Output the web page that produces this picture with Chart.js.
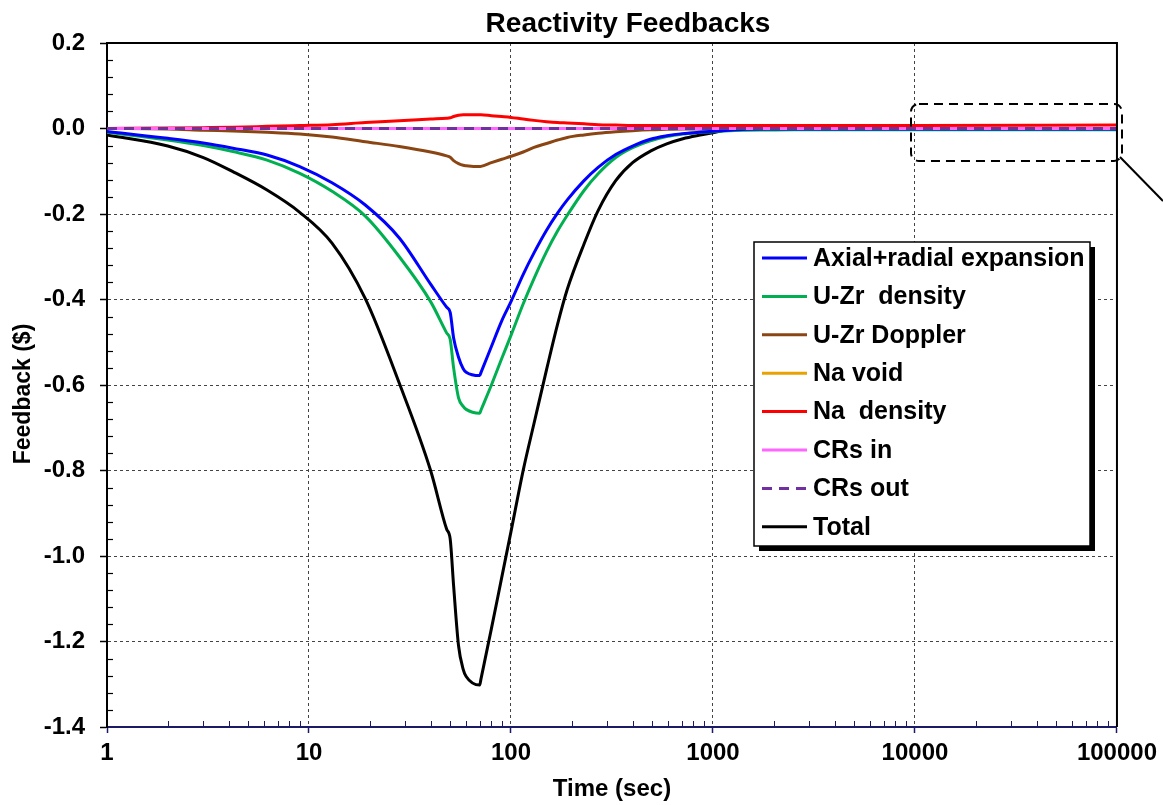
<!DOCTYPE html>
<html>
<head>
<meta charset="utf-8">
<title>Reactivity Feedbacks</title>
<script src="https://cdn.jsdelivr.net/npm/chart.js@4.4.1/dist/chart.umd.min.js"></script>
<style>
  html, body { margin: 0; padding: 0; background: #fff; }
  #wrap { width: 1163px; height: 805px; }
</style>
</head>
<body>
<div id="wrap"><canvas id="feedbackChart" width="1163" height="805"></canvas></div>
<script>
// time points (sec) shared by the computed feedback curves
const time = [1, 2, 3, 4.2, 6.2, 9, 13, 19, 28, 40, 48, 50, 52, 55, 58, 60, 70, 71, 80, 90, 100,
              115, 130, 150, 170, 190, 230, 270, 330, 400, 490, 590, 710, 850, 1000, 1200, 1450,
              1850, 2500, 4000, 10000, 100000];

const axialRadial = [-0.007, -0.023, -0.034, -0.046, -0.062, -0.089, -0.127, -0.179, -0.256, -0.364,
                     -0.418, -0.430, -0.490, -0.535, -0.562, -0.570, -0.578, -0.571, -0.510, -0.450, -0.405,
                     -0.341, -0.291, -0.238, -0.198, -0.167, -0.122, -0.091, -0.061, -0.041, -0.025,
                     -0.017, -0.012, -0.009, -0.0065, -0.004, -0.002, -0.001, -0.001, -0.001, -0.001, -0.001];

const uzrDensity = [-0.009, -0.027, -0.040, -0.054, -0.074, -0.105, -0.147, -0.205, -0.300, -0.405,
                    -0.478, -0.493, -0.560, -0.630, -0.650, -0.657, -0.666, -0.659, -0.600, -0.538, -0.484,
                    -0.410, -0.351, -0.288, -0.240, -0.203, -0.145, -0.106, -0.068, -0.045, -0.029,
                    -0.019, -0.013, -0.0095, -0.0075, -0.005, -0.004, -0.0035, -0.003, -0.003, -0.003, -0.003];

const uzrDoppler = [0, -0.001, -0.004, -0.006, -0.009, -0.013, -0.020, -0.031, -0.042, -0.055,
                    -0.064, -0.067, -0.075, -0.082, -0.086, -0.087, -0.089, -0.0885, -0.080, -0.072, -0.065,
                    -0.055, -0.044, -0.035, -0.027, -0.021, -0.015, -0.011, -0.0075, -0.005, -0.003,
                    -0.002, -0.001, -0.001, 0, 0, 0, 0, 0, 0, 0, 0];

const naDensity = [0, 0.001, 0.002, 0.003, 0.005, 0.007, 0.009, 0.014, 0.018, 0.022,
                   0.024, 0.025, 0.028, 0.031, 0.032, 0.032, 0.032, 0.032, 0.030, 0.028, 0.026,
                   0.022, 0.019, 0.016, 0.014, 0.013, 0.011, 0.009, 0.008, 0.007, 0.007,
                   0.007, 0.007, 0.007, 0.007, 0.007, 0.007, 0.007, 0.007, 0.007, 0.007, 0.008];

const total = [-0.015, -0.041, -0.068, -0.101, -0.144, -0.196, -0.268, -0.398, -0.596, -0.800,
               -0.937, -0.960, -1.070, -1.210, -1.265, -1.282, -1.302, -1.288, -1.170, -1.050, -0.943,
               -0.799, -0.690, -0.564, -0.458, -0.376, -0.270, -0.192, -0.122, -0.080, -0.053,
               -0.036, -0.024, -0.016, -0.010, -0.002, 0.005, 0.004, 0.002, 0.001, 0, 0];

// flat curves only need their end points
const flatTime = [1, 100000];
const naVoid = [0, 0];
const crsIn = [0, 0];
const crsOut = [0, 0];

const timeTicks = [1, 10, 100, 1000, 10000, 100000];
const feedbackTicks = [0.2, 0, -0.2, -0.4, -0.6, -0.8, -1.0, -1.2, -1.4];

const FONT = '"Liberation Sans", Arial, sans-serif';

function pts(xs, ys) {
    return xs.map((x, i) => ({ x: x, y: ys[i] }));
}

function line(label, xs, ys, color, extra) {
    return Object.assign({
        label: label,
        data: pts(xs, ys),
        borderColor: color,
        backgroundColor: color,
        borderWidth: 3,
        pointRadius: 0,
        cubicInterpolationMode: 'monotone',
        fill: false,
        order: 2
    }, extra || {});
}

// frame, minor ticks, titles, legend box and the zoom callout
const decor = {
    id: 'decor',
    afterDraw(chart) {
        const { ctx, chartArea: a, scales: { x, y } } = chart;
        ctx.save();

        // minor ticks on the y axis, pointing inward
        ctx.strokeStyle = '#000';
        ctx.lineWidth = 1.2;
        for (let k = 0; k <= 40; k++) {
            if (k % 5 === 0) continue;
            const py = Math.round(y.getPixelForValue(-1.4 + k * 0.04)) + 0.5;
            ctx.beginPath();
            ctx.moveTo(a.left, py);
            ctx.lineTo(a.left + 6, py);
            ctx.stroke();
        }

        // minor ticks on the x axis (2..9 of each decade)
        ctx.strokeStyle = '#1a1a66';
        ctx.lineWidth = 1;
        for (let d = 1; d < 100000; d *= 10) {
            for (let m = 2; m <= 9; m++) {
                const px = Math.round(x.getPixelForValue(m * d)) + 0.5;
                ctx.beginPath();
                ctx.moveTo(px, a.bottom);
                ctx.lineTo(px, a.bottom - 6);
                ctx.stroke();
            }
        }

        // top and right frame
        ctx.strokeStyle = '#000';
        ctx.lineWidth = 2;
        ctx.beginPath();
        ctx.moveTo(a.left, a.top);
        ctx.lineTo(a.right, a.top);
        ctx.lineTo(a.right, a.bottom);
        ctx.stroke();

        // chart title
        ctx.fillStyle = '#000';
        ctx.font = 'bold 28px ' + FONT;
        ctx.textAlign = 'center';
        ctx.textBaseline = 'middle';
        ctx.fillText('Reactivity Feedbacks', 628, 24);

        // y axis title
        ctx.save();
        ctx.translate(24, 394);
        ctx.rotate(-Math.PI / 2);
        ctx.font = 'bold 23px ' + FONT;
        ctx.fillText('Feedback ($)', 0, 0);
        ctx.restore();

        // legend with drop shadow
        const lx = a.left + 647, ly = a.top + 199, lw = 336, lh = 304;
        ctx.fillStyle = '#000';
        ctx.fillRect(lx + 5, ly + 5, lw, lh);
        ctx.fillStyle = '#fff';
        ctx.fillRect(lx, ly, lw, lh);
        ctx.strokeStyle = '#000';
        ctx.lineWidth = 1.5;
        ctx.strokeRect(lx, ly, lw, lh);

        ctx.font = 'bold 25px ' + FONT;
        ctx.textAlign = 'left';
        chart.data.datasets.forEach((ds, i) => {
            const ry = ly + 16 + i * 38.4;
            ctx.strokeStyle = ds.borderColor;
            ctx.lineWidth = 3;
            ctx.setLineDash(ds.borderDash || []);
            ctx.beginPath();
            ctx.moveTo(lx + 8, ry);
            ctx.lineTo(lx + 53, ry);
            ctx.stroke();
            ctx.setLineDash([]);
            ctx.fillStyle = '#000';
            ctx.fillText(ds.label, lx + 59, ry + 1);
        });

        // dashed callout around the long-time tail
        ctx.strokeStyle = '#000';
        ctx.lineWidth = 2;
        ctx.setLineDash([9, 6]);
        ctx.beginPath();
        ctx.roundRect(911, 104, 211, 57, 8);
        ctx.stroke();
        ctx.setLineDash([]);
        ctx.beginPath();
        ctx.moveTo(1120, 157);
        ctx.lineTo(1163, 201);
        ctx.stroke();

        ctx.restore();
    }
};

window.onload = function() {
    const ctx = document.getElementById('feedbackChart').getContext('2d');

    const data = {
        datasets: [
            line('Axial+radial expansion', time, axialRadial, '#0000ff'),
            line('U-Zr  density', time, uzrDensity, '#00b050'),
            line('U-Zr Doppler', time, uzrDoppler, '#8b4513'),
            line('Na void', flatTime, naVoid, '#e8a202', { order: 4 }),
            line('Na  density', time, naDensity, '#ff0000'),
            line('CRs in', flatTime, crsIn, '#ff66ff', { order: 1 }),
            line('CRs out', flatTime, crsOut, '#7030a0', { order: 0, borderDash: [10, 7] }),
            line('Total', time, total, '#000000')
        ]
    };

    const tickFont = { family: FONT, size: 24, weight: 'bold' };

    const options = {
        responsive: false,
        animation: false,
        layout: { padding: { top: 43, right: 46, left: 0, bottom: 0 } },
        plugins: {
            legend: { display: false },
            title: { display: false },
            tooltip: { enabled: false }
        },
        scales: {
            x: {
                type: 'logarithmic',
                min: 1,
                max: 100000,
                afterBuildTicks: s => { s.ticks = timeTicks.map(v => ({ value: v })); },
                afterFit: s => { s.height = 78; },
                ticks: {
                    callback: v => String(v),
                    autoSkip: false,
                    maxRotation: 0,
                    color: '#000',
                    font: tickFont,
                    padding: 6
                },
                grid: { color: '#444', lineWidth: 1, tickColor: '#1a1a66', tickLength: 6, tickWidth: 1.5 },
                border: { color: '#1a1a66', width: 2, dash: [3, 3] },
                title: {
                    display: true,
                    text: 'Time (sec)',
                    color: '#000',
                    font: { family: FONT, size: 24, weight: 'bold' },
                    padding: { top: 0, bottom: 1 }
                }
            },
            y: {
                min: -1.4,
                max: 0.2,
                afterBuildTicks: s => { s.ticks = feedbackTicks.map(v => ({ value: v })); },
                afterFit: s => { s.width = 107; },
                ticks: {
                    callback: v => v.toFixed(1),
                    color: '#000',
                    font: tickFont,
                    padding: 15
                },
                grid: { color: '#444', lineWidth: 1, tickColor: '#000', tickLength: 7, tickWidth: 1.5 },
                border: { color: '#000', width: 2, dash: [3, 3] }
            }
        }
    };

    new Chart(ctx, {
        type: 'line',
        data: data,
        options: options,
        plugins: [decor]
    });
};
</script>
</body>
</html>
